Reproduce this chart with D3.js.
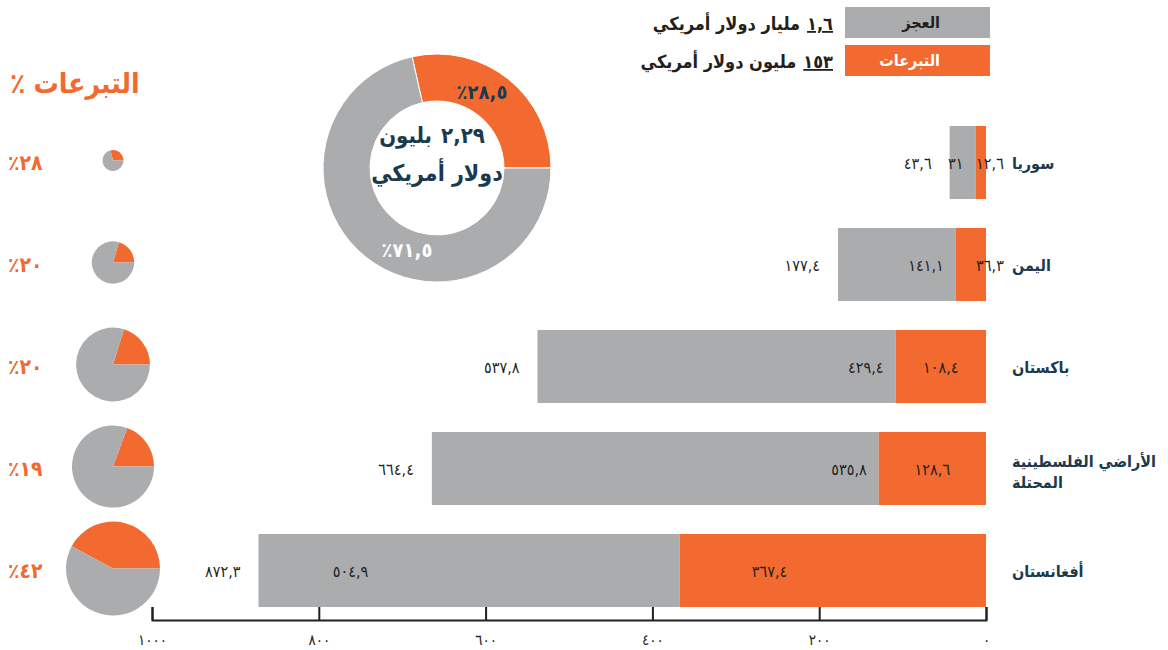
<!DOCTYPE html>
<html>
<head>
<meta charset="utf-8">
<script src="https://cdn.jsdelivr.net/npm/d3@7"></script>
<style>
  body { margin: 0; background: #fff; }
  text { font-family: "DejaVu Sans Condensed", "DejaVu Sans", sans-serif; }
</style>
</head>
<body>
<div id="chart"></div>
<script>
var w = 1168;
var h = 650;

var countries = ["سوريا", "اليمن", "باكستان", "الأراضي الفلسطينية\nالمحتلة", "أفغانستان"];
var donations = [12.6, 36.3, 108.4, 128.6, 367.4];
var deficit = [31, 141.1, 429.4, 535.8, 504.9];
var totals = [43.6, 177.4, 537.8, 664.4, 872.3];
var sharePct = [28, 20, 20, 19, 42];
var donutShares = [28.5, 71.5];
var axisTicks = [0, 200, 400, 600, 800, 1000];
var legendNames = ["العجز", "التبرعات"];
var legendAmounts = ["١,٦", "١٥٣"];
var legendUnits = ["مليار دولار أمريكي", "مليون دولار أمريكي"];

var grey = "#abacae";
var orange = "#f26a2f";
var navy = "#1c3a4e";
var ink = "#231f20";

var digits = "٠١٢٣٤٥٦٧٨٩";
function ar(v) {
    return String(v).replace(/[0-9]/g, function (d) { return digits[d]; }).replace(".", ",");
}

// pieces of a mixed line, first piece drawn rightmost
function rtlLine(parent, parts, x, y, anchor, size, fill, gap) {
    var g = parent.append("g");
    var cur = 0;
    parts.forEach(function (p) {
        var t = g.append("text").attr("x", cur).attr("y", 0)
            .attr("text-anchor", "end")
            .attr("font-size", size).attr("font-weight", "bold").attr("fill", fill)
            .text(p.text);
        if (p.underline) t.attr("text-decoration", "underline");
        cur -= t.node().getComputedTextLength() + gap;
    });
    var total = -(cur + gap);
    var dx = anchor === "end" ? x : (anchor === "middle" ? x + total / 2 : x + total);
    g.attr("transform", "translate(" + dx + "," + y + ")");
    return g;
}

var svg = d3.select("#chart").append("svg").attr("width", w).attr("height", h);

var xScale = d3.scaleLinear().domain([0, 1000]).range([986, 152]);
var yScale = d3.scaleBand().domain(d3.range(countries.length))
    .range([111.5, 621.5]).paddingInner(0.284).paddingOuter(0.142);

function midY(i) { return yScale(i) + yScale.bandwidth() / 2; }

// ***** bars *****
var rows = svg.selectAll("g.row").data(countries).enter().append("g").attr("class", "row");

rows.append("rect")
    .attr("x", function (d, i) { return xScale(totals[i]); })
    .attr("y", function (d, i) { return yScale(i); })
    .attr("width", function (d, i) { return xScale(donations[i]) - xScale(totals[i]); })
    .attr("height", yScale.bandwidth())
    .attr("fill", grey);

rows.append("rect")
    .attr("x", function (d, i) { return xScale(donations[i]); })
    .attr("y", function (d, i) { return yScale(i); })
    .attr("width", function (d, i) { return xScale(0) - xScale(donations[i]); })
    .attr("height", yScale.bandwidth())
    .attr("fill", orange);

// totals, left of the bar
rows.append("text")
    .attr("text-anchor", "end")
    .attr("x", function (d, i) { return xScale(totals[i]) - 18; })
    .attr("y", function (d, i) { return midY(i) + 6; })
    .attr("font-size", 16).attr("fill", ink)
    .text(function (d, i) { return ar(totals[i]); });

// deficit labels
rows.append("text")
    .attr("text-anchor", function (d, i) { return i === countries.length - 1 ? "middle" : "end"; })
    .attr("x", function (d, i) {
        if (i === countries.length - 1) return xScale(totals[i]) + 92;
        return xScale(donations[i]) - 12;
    })
    .attr("y", function (d, i) { return midY(i) + 6; })
    .attr("font-size", 16).attr("fill", ink)
    .text(function (d, i) { return ar(deficit[i]); });

// donation labels
rows.append("text")
    .attr("text-anchor", "middle")
    .attr("x", function (d, i) {
        var left = xScale(donations[i]), right = xScale(0);
        if (right - left < 45) return right + 4;
        return Math.min(left + 90, (left + right) / 2);
    })
    .attr("y", function (d, i) { return midY(i) + 6; })
    .attr("font-size", 16).attr("fill", ink)
    .text(function (d, i) { return ar(donations[i]); });

// country names
var names = rows.append("text")
    .attr("text-anchor", "start")
    .attr("font-size", 16).attr("font-weight", "bold").attr("fill", navy)
    .attr("y", function (d, i) { return midY(i) + 6 - (d.split("\n").length - 1) * 8; });

names.each(function (d) {
    var t = d3.select(this);
    d.split("\n").forEach(function (line, k) {
        t.append("tspan").attr("x", 1012).attr("dy", k === 0 ? 0 : 21).text(line);
    });
});

// ***** axis *****
var xAxis = d3.axisBottom(xScale).tickValues(axisTicks).tickSize(-13).tickPadding(14)
    .tickFormat(function (d) { return ar(d); });
var axisG = svg.append("g").attr("transform", "translate(0,620)").call(xAxis);
axisG.selectAll("path, line").attr("stroke", ink).attr("stroke-width", 2);
axisG.selectAll("text").attr("font-size", 15).attr("fill", ink)
    .attr("font-family", "DejaVu Sans Condensed, DejaVu Sans, sans-serif");

// ***** small pies *****
var rScale = d3.scaleSqrt().domain([0, d3.max(totals)]).range([0, 47]);

function pieFor(share) {
    var start = Math.PI / 2 - 2 * Math.PI * share;
    return d3.pie().sort(null).startAngle(start).endAngle(start + 2 * Math.PI);
}

rows.each(function (d, i) {
    var g = d3.select(this).append("g")
        .attr("transform", "translate(113," + (midY(i) - 2) + ")");
    var arc = d3.arc().innerRadius(0).outerRadius(rScale(totals[i]));
    g.selectAll("path").data(pieFor(donations[i] / totals[i])([donations[i], deficit[i]]))
        .enter().append("path")
        .attr("d", arc)
        .attr("fill", function (p, k) { return k === 0 ? orange : grey; });
});

rows.append("text")
    .attr("text-anchor", "start")
    .attr("x", 8)
    .attr("y", function (d, i) { return midY(i) + 7; })
    .attr("font-size", 21).attr("font-weight", "bold").attr("fill", orange)
    .text(function (d, i) { return "٪" + ar(sharePct[i]); });

rtlLine(svg, [{ text: "التبرعات" }, { text: "٪" }], 10, 93, "start", 28, orange, 8);

// ***** donut *****
var donut = svg.append("g").attr("transform", "translate(437,168)");
var donutArc = d3.arc().innerRadius(67).outerRadius(114);
donut.selectAll("path")
    .data(pieFor(donutShares[0] / 100)(donutShares))
    .enter().append("path")
    .attr("d", donutArc)
    .attr("fill", function (p, k) { return k === 0 ? orange : grey; })
    .attr("stroke", "#fff").attr("stroke-width", 1);

donut.append("text")
    .attr("text-anchor", "middle")
    .attr("x", 45).attr("y", -69)
    .attr("font-size", 20).attr("font-weight", "bold").attr("fill", navy)
    .text("٪" + ar(donutShares[0]));

donut.append("text")
    .attr("text-anchor", "middle")
    .attr("x", -30).attr("y", 89)
    .attr("font-size", 20).attr("font-weight", "bold").attr("fill", "#fff")
    .text("٪" + ar(donutShares[1]));

rtlLine(donut, [{ text: "٢,٢٩" }, { text: "بليون" }], -5, -25, "middle", 22, navy, 9);

donut.append("text")
    .attr("text-anchor", "middle")
    .attr("x", 0).attr("y", 13)
    .attr("font-size", 23).attr("font-weight", "bold").attr("fill", navy)
    .text("دولار أمريكي");

// ***** legend *****
var legend = svg.selectAll("g.legend").data(legendNames).enter().append("g")
    .attr("class", "legend")
    .attr("transform", function (d, i) { return "translate(0," + (7 + i * 38) + ")"; });

legend.append("rect")
    .attr("x", 845).attr("width", 145).attr("height", 31)
    .attr("fill", function (d, i) { return i === 0 ? grey : orange; });

legend.append("text")
    .attr("text-anchor", "end")
    .attr("x", 940).attr("y", 21)
    .attr("font-size", 16).attr("font-weight", "bold")
    .attr("fill", function (d, i) { return i === 0 ? ink : "#fff"; })
    .text(function (d) { return d; });

legend.each(function (d, i) {
    rtlLine(d3.select(this), [{ text: legendAmounts[i], underline: true }, { text: legendUnits[i] }],
        833, 23, "end", 18, ink, 7);
});
</script>
</body>
</html>
